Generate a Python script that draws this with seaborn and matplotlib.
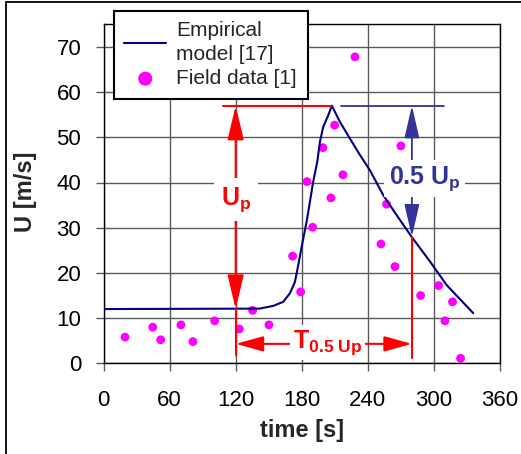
import matplotlib
matplotlib.use("Agg")
import matplotlib.pyplot as plt
from matplotlib.lines import Line2D
import seaborn as sns
import pandas as pd

# Empirical model curve [17]
model_time = [0, 141.7, 154.1, 163.2, 169.3, 173.8, 176.8, 180.8, 184.4, 187.4,
              190.4, 194.1, 196.5, 199.5, 204.1, 207.3, 214.7, 223.8, 232.8,
              241.9, 254.0, 266.1, 279.7, 296.5, 311.6, 335.7]
model_u = [12.0, 12.1, 12.7, 13.6, 15.5, 18.0, 21.7, 26.9, 31.3, 35.7,
           40.2, 44.6, 49.0, 52.3, 54.9, 57.0, 53.4, 49.7, 46.1,
           42.7, 37.2, 32.8, 28.0, 22.5, 17.3, 11.1]

# Field data [1]
field_time = [19.5, 44.7, 51.9, 70.3, 81.2, 100.9, 123.3, 135.4, 150.2, 171.7,
              179.0, 184.7, 189.9, 199.2, 206.5, 209.8, 217.4, 228.3, 251.9,
              257.0, 264.6, 270.0, 287.9, 304.2, 310.0, 316.9, 324.2]
field_u = [5.8, 8.0, 5.2, 8.5, 4.8, 9.4, 7.6, 11.7, 8.5, 23.7,
           15.8, 40.2, 30.1, 47.7, 36.6, 52.7, 41.7, 67.8, 26.4,
           35.2, 21.4, 48.1, 15.0, 17.2, 9.4, 13.6, 1.1]

# Annotated quantities
u_peak = 57.0
u_base = 12.0
t_start = 120
t_half = 280

x_ticks = [0, 60, 120, 180, 240, 300, 360]
y_ticks = [0, 10, 20, 30, 40, 50, 60, 70]

sns.set_style("white")
plt.rcParams["font.family"] = ["Liberation Sans", "DejaVu Sans"]
plt.rcParams["mathtext.fontset"] = "custom"
plt.rcParams["mathtext.bf"] = "Liberation Sans:bold"
plt.rcParams["mathtext.rm"] = "Liberation Sans"
plt.rcParams["mathtext.it"] = "Liberation Sans:italic"

W, H = 521, 454
fig = plt.figure(figsize=(W / 100, H / 100), dpi=100)
ax = fig.add_axes([103.5 / W, 1 - 363.3 / H, (500 - 103.5) / W, (363.3 - 24.3) / H])

model_df = pd.DataFrame({"time": model_time, "U": model_u})
field_df = pd.DataFrame({"time": field_time, "U": field_u})

sns.lineplot(data=model_df, x="time", y="U", ax=ax, color="#000080", lw=1.5,
             sort=False, label="Empirical\nmodel [17]", zorder=4)
sns.scatterplot(data=field_df, x="time", y="U", ax=ax, color="#FF00FF", s=40,
                edgecolor="none", label="Field data [1]", zorder=3)

ax.set_xlim(0, 360)
ax.set_ylim(0, 75)
ax.set_xticks(x_ticks)
ax.set_yticks(y_ticks)
ax.grid(True, color="#5a5a5a", lw=1.0)
ax.set_axisbelow(True)
for sp in ax.spines.values():
    sp.set_color("black")
    sp.set_linewidth(1.0)
ax.tick_params(axis="both", direction="out", length=6, width=1, color="#5a5a5a",
               labelsize=16, labelcolor="black")
ax.tick_params(axis="x", pad=13, bottom=True)
ax.tick_params(axis="y", pad=10, left=True)

ax.set_xlabel("time [s]", fontsize=17, fontweight="bold")
ax.set_ylabel("U [m/s]", fontsize=17, fontweight="bold")
ax.xaxis.set_label_coords(0.5, -0.197)
ax.xaxis.label.set_verticalalignment("center")
ax.yaxis.set_label_coords(-0.197, 0.505)
ax.yaxis.label.set_verticalalignment("center")

red = "#FF0000"
blue = "#333399"

# Peak level reference lines
ax.plot([108.6, 207.0], [u_peak, u_peak], color=red, lw=1.5, zorder=5)
ax.plot([215.3, 309.3], [u_peak, u_peak], color=blue, lw=1.3, zorder=5)

# Vertical guides down to the time arrow
ax.plot([t_start, t_start], [1.8, u_base], color=red, lw=1.5, zorder=5)
ax.plot([t_half, t_half], [1.1, 28.0], color=red, lw=1.5, zorder=5)


def double_arrow(p0, p1, color, hl, hw, lw):
    ax.annotate("", xy=p1, xytext=p0,
                arrowprops=dict(arrowstyle=f"<|-|>,head_length={hl},head_width={hw}",
                                color=color, lw=lw, shrinkA=0, shrinkB=0,
                                mutation_scale=1),
                zorder=6)


# U_p arrow
double_arrow((t_start, u_base), (t_start, u_peak), red, 21, 5, 1.5)
ax.text(t_start, 36.3, r"$\mathbf{U}_\mathbf{p}$", color=red, fontsize=18,
        ha="center", va="center", zorder=8,
        bbox=dict(fc="white", ec="none", pad=5))

# 0.5 U_p arrow
double_arrow((t_half, 28.0), (t_half, u_peak), blue, 20, 4.6, 1.3)
ax.text(291.5, 40.8, r"$\mathbf{0.5\ U}_\mathbf{p}$", color=blue, fontsize=18,
        ha="center", va="center", zorder=8,
        bbox=dict(fc="white", ec="none", pad=3))

# T_0.5Up arrow
double_arrow((t_start, 4.3), (t_half, 4.3), red, 17, 4.7, 1.5)
ax.text(203.5, 4.6, r"$\mathbf{T}_\mathbf{0.5\ Up}$", color=red, fontsize=18,
        ha="center", va="center", zorder=8,
        bbox=dict(fc="white", ec="none", pad=2))

# Legend placed on the figure, overlapping the top of the axes
handles, labels = ax.get_legend_handles_labels()
ax.get_legend().remove()
leg = fig.legend(handles, labels, loc="upper left",
                 bbox_to_anchor=(114 / W, 1 - 11 / H), borderaxespad=0,
                 fontsize=15, frameon=True, fancybox=False, framealpha=1,
                 edgecolor="black", handlelength=2.0, handletextpad=0.5,
                 borderpad=0.5, labelspacing=0.25, markerscale=1.6)
for t in leg.get_texts():
    t.set_linespacing(1.3)
leg.get_frame().set_linewidth(1.5)
leg.set_zorder(20)

# Outer frame on the left and top edges
fig.add_artist(Line2D([6 / W, 6 / W], [0, 1 - 1.5 / H], color="black", lw=1.3,
                      transform=fig.transFigure))
fig.add_artist(Line2D([6 / W, 1], [1 - 1.5 / H, 1 - 1.5 / H], color="black", lw=1.3,
                      transform=fig.transFigure))

fig.savefig("out.png", dpi=100)
